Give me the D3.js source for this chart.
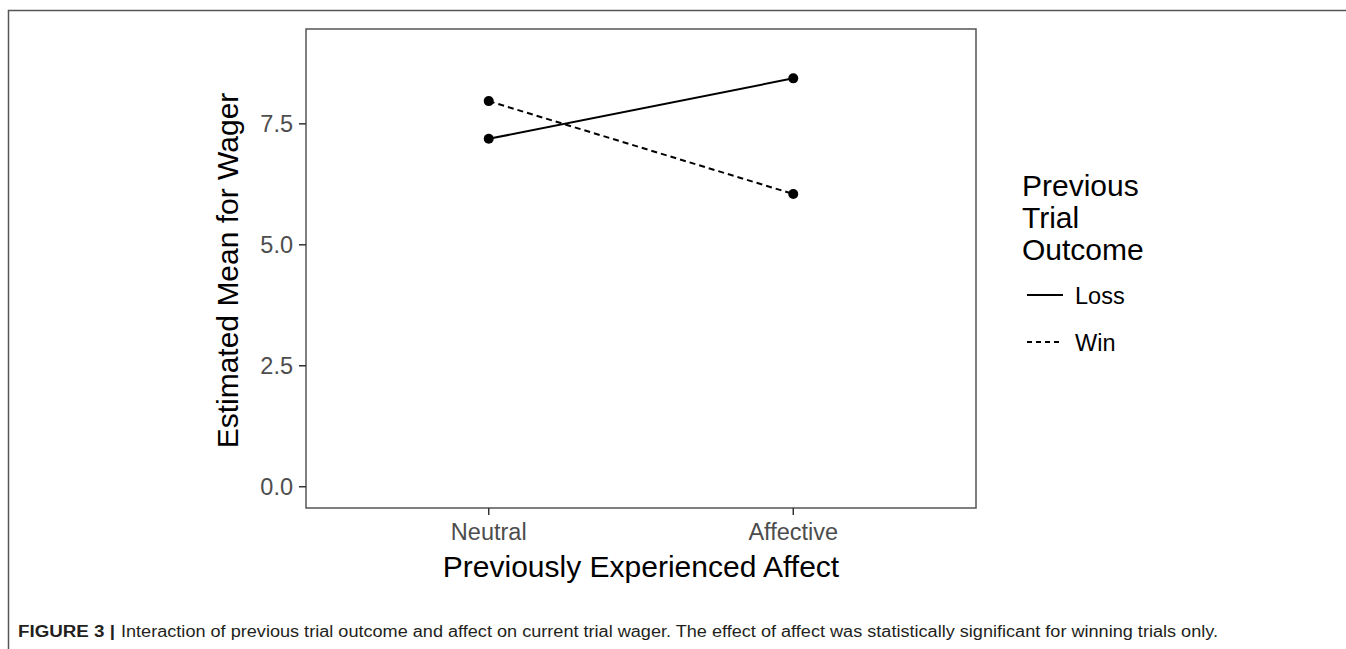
<!DOCTYPE html>
<html><head><meta charset="utf-8">
<script src="https://cdn.jsdelivr.net/npm/d3@7"></script>
<style>body{margin:0;background:#fff}svg{display:block}text{font-family:"Liberation Sans",Arial,sans-serif}</style>
</head><body>
<script>
const categories = ["Neutral", "Affective"];
const seriesNames = ["Loss", "Win"];
const lossValues = [7.18, 8.43];
const winValues = [7.96, 6.04];
const yTicks = [0, 2.5, 5, 7.5];
const yDomain = [-0.45, 9.45];
const dashes = {Loss: null, Win: "6,4"};

const W = 1346, H = 649;
const svg = d3.select("body").append("svg").attr("width", W).attr("height", H);

// figure frame
svg.append("path").attr("d", `M8.5,${H} V10.5 H${W}`).attr("fill", "none").attr("stroke", "#555").attr("stroke-width", 1.5);

const P = {left: 306, right: 976, top: 29, bottom: 508};
const x = d3.scalePoint().domain(categories).range([P.left, P.right]).padding(0.6 * 2 / 2.2 * 1.1 / 1.1);
// discrete expansion of 0.6 units on each side
const xs = d3.scaleLinear().domain([0.4, 2.6]).range([P.left, P.right]);
const xPos = c => xs(categories.indexOf(c) + 1);
const y = d3.scaleLinear().domain(yDomain).range([P.bottom, P.top]);

// panel border
svg.append("rect").attr("x", P.left).attr("y", P.top).attr("width", P.right - P.left).attr("height", P.bottom - P.top)
  .attr("fill", "none").attr("stroke", "#555").attr("stroke-width", 1.5);

// y axis
const yAxis = d3.axisLeft(y).tickValues(yTicks).tickFormat(d3.format(".1f")).tickSize(7).tickPadding(6);
const gy = svg.append("g").attr("transform", `translate(${P.left},0)`).call(yAxis);
gy.select(".domain").remove();
gy.selectAll(".tick line").attr("stroke", "#333").attr("stroke-width", 1.5);
gy.selectAll(".tick text").attr("fill", "#4d4d4d").style("font-size", "23.5px").attr("dy", "0.36em");

// x axis
const xAxisScale = d3.scaleOrdinal().domain(categories).range(categories.map(xPos));
const gx = svg.append("g").attr("transform", `translate(0,${P.bottom})`);
categories.forEach(c => {
  const t = gx.append("g").attr("transform", `translate(${xPos(c)},0)`);
  t.append("line").attr("y2", 7).attr("stroke", "#333").attr("stroke-width", 1.5);
  t.append("text").attr("y", 32).attr("text-anchor", "middle").attr("fill", "#4d4d4d").style("font-size", "23.5px").text(c);
});

// axis titles
svg.append("text").attr("x", (P.left + P.right) / 2).attr("y", 577).attr("text-anchor", "middle")
  .style("font-size", "30px").attr("fill", "#000").text("Previously Experienced Affect");
svg.append("text").attr("transform", `translate(238,${(P.top + P.bottom) / 2 + 2}) rotate(-90)`).attr("text-anchor", "middle")
  .style("font-size", "30px").attr("fill", "#000").text("Estimated Mean for Wager");

// data
const series = [
  {name: "Loss", values: lossValues},
  {name: "Win", values: winValues}
];
const line = d3.line().x((d, i) => xPos(categories[i])).y(d => y(d));
series.forEach(s => {
  svg.append("path").datum(s.values).attr("d", line).attr("fill", "none").attr("stroke", "#000")
    .attr("stroke-width", 2).attr("stroke-dasharray", dashes[s.name]);
  svg.selectAll(null).data(s.values).enter().append("circle")
    .attr("cx", (d, i) => xPos(categories[i])).attr("cy", d => y(d)).attr("r", 5).attr("fill", "#000");
});

// legend
const lg = svg.append("g");
["Previous", "Trial", "Outcome"].forEach((t, i) => {
  lg.append("text").attr("x", 1022).attr("y", 196 + i * 32).style("font-size", "30px").attr("fill", "#000").text(t);
});
seriesNames.forEach((n, i) => {
  const yy = 295 + i * 47;
  lg.append("line").attr("x1", 1027).attr("x2", 1063).attr("y1", yy).attr("y2", yy)
    .attr("stroke", "#000").attr("stroke-width", 2).attr("stroke-dasharray", n === "Win" ? "5,4" : null);
  lg.append("text").attr("x", 1075).attr("y", yy + 8.5).style("font-size", "23.5px").attr("fill", "#000").text(n);
});

// caption
svg.append("text").attr("x", 18).attr("y", 637).style("font-size", "16px").style("font-weight", "bold")
  .attr("fill", "#231f20").attr("textLength", 97).attr("lengthAdjust", "spacingAndGlyphs").text("FIGURE 3 |");
svg.append("text").attr("x", 121).attr("y", 637).style("font-size", "16px")
  .attr("fill", "#231f20").attr("textLength", 1097).attr("lengthAdjust", "spacingAndGlyphs")
  .text("Interaction of previous trial outcome and affect on current trial wager. The effect of affect was statistically significant for winning trials only.");
</script>
</body></html>
